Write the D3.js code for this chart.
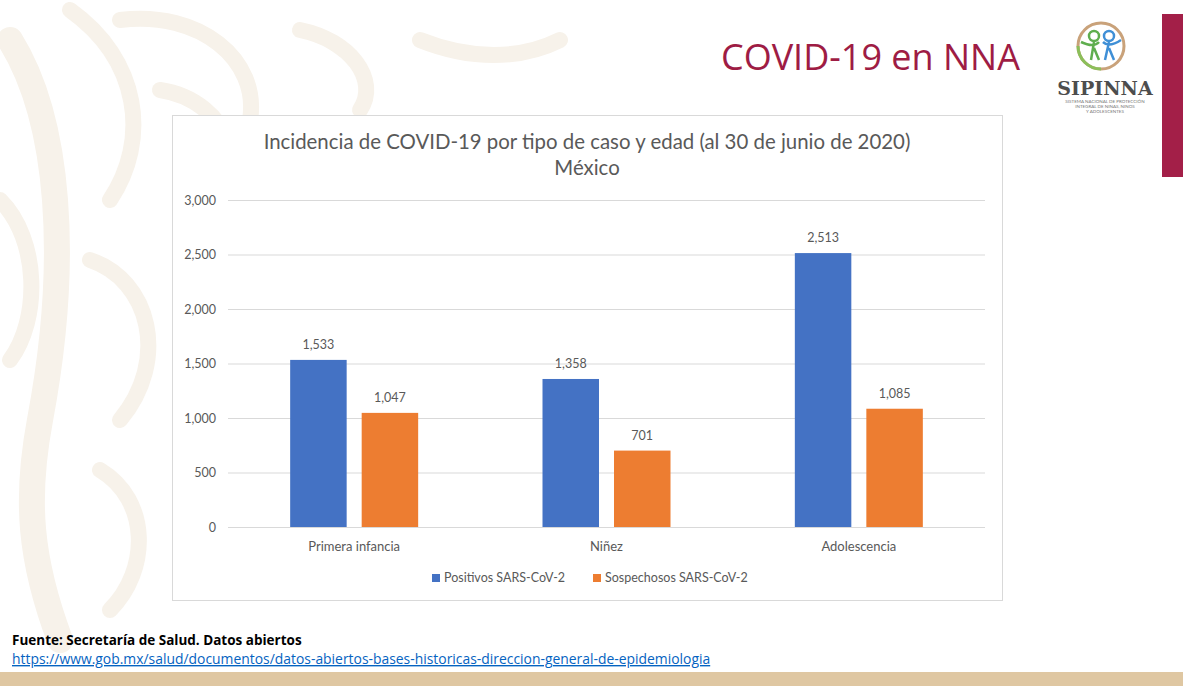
<!DOCTYPE html>
<html>
<head>
<meta charset="utf-8">
<script src="https://cdn.jsdelivr.net/npm/d3@7"></script>
<style>
  body { margin: 0; background: #fff; }
  svg { display: block; }
</style>
</head>
<body>
<div id="slide"></div>
<script>
// data
var categories = ["Primera infancia", "Niñez", "Adolescencia"]
var seriesNames = ["Positivos SARS-CoV-2", "Sospechosos SARS-CoV-2"]
var positivos = [1533, 1358, 2513]
var sospechosos = [1047, 701, 1085]
var yTicks = [0, 500, 1000, 1500, 2000, 2500, 3000]

var W = 1183, H = 686
var colors = ["#4472c4", "#ed7d31"]
var font = "Lato, 'Open Sans', sans-serif"
var gray = "#595959"

var svg = d3.select("#slide").append("svg")
  .attr("width", W)
  .attr("height", H)

// faint background ornament on the left
var orn = svg.append("g")
  .attr("fill", "none")
  .attr("stroke", "#f7f2ea")
  .attr("stroke-linecap", "round")
var swirls = [
  "M10,40 C60,120 70,260 40,420 C25,500 30,560 60,640",
  "M70,10 C140,60 150,140 110,200",
  "M120,20 C200,10 260,60 250,120",
  "M160,90 C230,100 260,180 210,230",
  "M300,30 C350,40 380,80 360,110",
  "M0,200 C40,240 40,320 10,360",
  "M90,260 C150,280 170,360 120,420",
  "M100,470 C150,500 150,570 110,610",
  "M420,40 C470,60 520,60 560,40"
]
orn.selectAll("path")
  .data(swirls)
  .enter()
  .append("path")
  .attr("d", d => d)
  .attr("stroke-width", (d, i) => i == 0 ? 26 : 16)

// red stripe + bottom band
svg.append("rect").attr("x", 1162).attr("y", 14).attr("width", 21).attr("height", 163).attr("fill", "#a31f48")
svg.append("rect").attr("x", 0).attr("y", 672).attr("width", W).attr("height", 14).attr("fill", "#dfc7a2")

// slide title
svg.append("text")
  .attr("x", 1020)
  .attr("y", 70)
  .attr("text-anchor", "end")
  .style("font-family", "'Open Sans', sans-serif")
  .style("font-size", "36px")
  .style("fill", "#9e1c44")
  .text("COVID-19 en NNA")

// logo
var logo = svg.append("g").attr("transform", "translate(1101,46)")
logo.append("circle").attr("r", 23).attr("fill", "none").attr("stroke", "#c9a27a").attr("stroke-width", 3)
logo.append("path").attr("d", "M-23,0 A23,23 0 0,0 0,23").attr("fill", "none").attr("stroke", "#8bbf5a").attr("stroke-width", 3)
logo.append("circle").attr("cx", -7).attr("cy", -10).attr("r", 5).attr("fill", "none").attr("stroke", "#5fae4e").attr("stroke-width", 2.5)
logo.append("path").attr("d", "M-20,-4 Q-7,2 -2,-4 M-7,-4 L-10,14 M-7,2 L-2,14").attr("fill", "none").attr("stroke", "#5fae4e").attr("stroke-width", 2.5)
logo.append("circle").attr("cx", 8).attr("cy", -10).attr("r", 5).attr("fill", "none").attr("stroke", "#3f8fd6").attr("stroke-width", 2.5)
logo.append("path").attr("d", "M2,-4 Q8,2 20,-6 M8,-4 L4,14 M8,2 L13,14").attr("fill", "none").attr("stroke", "#3f8fd6").attr("stroke-width", 2.5)
svg.append("text")
  .attr("x", 1105).attr("y", 95)
  .attr("text-anchor", "middle")
  .style("font-family", "'DejaVu Serif', serif")
  .style("font-weight", "bold")
  .style("font-size", "19px")
  .style("fill", "#4d4d4d")
  .text("SIPINNA")
var subs = ["SISTEMA NACIONAL DE PROTECCIÓN", "INTEGRAL DE NIÑAS, NIÑOS", "Y ADOLESCENTES"]
svg.selectAll(".sub")
  .data(subs)
  .enter()
  .append("text")
  .attr("class", "sub")
  .attr("x", 1105)
  .attr("y", (d, i) => 103 + i * 5)
  .attr("text-anchor", "middle")
  .style("font-family", font)
  .style("font-size", "4.5px")
  .style("fill", "#777")
  .text(d => d)

// chart box
svg.append("rect")
  .attr("x", 172.5).attr("y", 115.5)
  .attr("width", 830).attr("height", 485)
  .attr("fill", "#fff")
  .attr("stroke", "#d9d9d9")

svg.append("text")
  .attr("x", 587).attr("y", 149)
  .attr("text-anchor", "middle")
  .style("font-family", font)
  .style("font-size", "20.4px")
  .style("fill", gray)
  .text("Incidencia de COVID-19 por tipo de caso y edad (al 30 de junio de 2020)")
svg.append("text")
  .attr("x", 587).attr("y", 175)
  .attr("text-anchor", "middle")
  .style("font-family", font)
  .style("font-size", "20.4px")
  .style("fill", gray)
  .text("México")

// scales
var x0 = d3.scaleBand().domain(categories).range([228, 985])
var x1 = d3.scaleBand().domain(seriesNames)
  .range([x0.bandwidth() / 2 - 64, x0.bandwidth() / 2 + 64])
  .paddingInner(0.21)
var y = d3.scaleLinear().domain([0, 3000]).range([527, 200])

// grid + y labels
var yAxis = svg.append("g")
  .attr("transform", "translate(228,0)")
  .call(d3.axisLeft(y).tickValues(yTicks).tickSize(-757).tickFormat(d3.format(",")).tickPadding(12))
yAxis.select(".domain").remove()
yAxis.selectAll("line").attr("stroke", "#d9d9d9")
yAxis.selectAll("text")
  .style("font-family", font)
  .style("font-size", "12.5px")
  .style("fill", gray)

// x labels
var xAxis = svg.append("g")
  .attr("transform", "translate(0,527)")
  .call(d3.axisBottom(x0).tickSize(0).tickPadding(15))
xAxis.select(".domain").remove()
xAxis.selectAll("text")
  .style("font-family", font)
  .style("font-size", "13px")
  .style("fill", gray)

// bars
var rows = categories.map((c, i) => ({cat: c, vals: [positivos[i], sospechosos[i]]}))
var groups = svg.selectAll(".grp")
  .data(rows)
  .enter()
  .append("g")
  .attr("class", "grp")
  .attr("transform", d => "translate(" + x0(d.cat) + ",0)")

groups.selectAll("rect")
  .data(d => d.vals.map((v, j) => ({name: seriesNames[j], v: v, j: j})))
  .enter()
  .append("rect")
  .attr("x", d => x1(d.name))
  .attr("y", d => y(d.v))
  .attr("width", x1.bandwidth())
  .attr("height", d => y(0) - y(d.v))
  .attr("fill", d => colors[d.j])

groups.selectAll(".lbl")
  .data(d => d.vals.map((v, j) => ({name: seriesNames[j], v: v})))
  .enter()
  .append("text")
  .attr("class", "lbl")
  .attr("x", d => x1(d.name) + x1.bandwidth() / 2)
  .attr("y", d => y(d.v) - 11)
  .attr("text-anchor", "middle")
  .style("font-family", font)
  .style("font-size", "12.5px")
  .style("fill", gray)
  .text(d => d3.format(",")(d.v))

// legend
var legX = [432, 593]
var leg = svg.selectAll(".leg")
  .data(seriesNames)
  .enter()
  .append("g")
  .attr("class", "leg")
  .attr("transform", (d, i) => "translate(" + legX[i] + ",578)")
leg.append("rect").attr("x", 0).attr("y", -4).attr("width", 8).attr("height", 8).attr("fill", (d, i) => colors[i])
leg.append("text")
  .attr("x", 12).attr("y", 4)
  .style("font-family", font)
  .style("font-size", "12.5px")
  .style("fill", gray)
  .text(d => d)

// source
svg.append("text")
  .attr("x", 12).attr("y", 645)
  .style("font-family", "'Open Sans', sans-serif")
  .style("font-weight", "bold")
  .style("font-size", "13.5px")
  .style("fill", "#000")
  .text("Fuente: Secretaría de Salud. Datos abiertos")
svg.append("text")
  .attr("x", 12).attr("y", 664)
  .style("font-family", "'Open Sans', sans-serif")
  .style("font-size", "13.9px")
  .style("fill", "#0563c1")
  .style("text-decoration", "underline")
  .text("https://www.gob.mx/salud/documentos/datos-abiertos-bases-historicas-direccion-general-de-epidemiologia")
</script>
</body>
</html>
